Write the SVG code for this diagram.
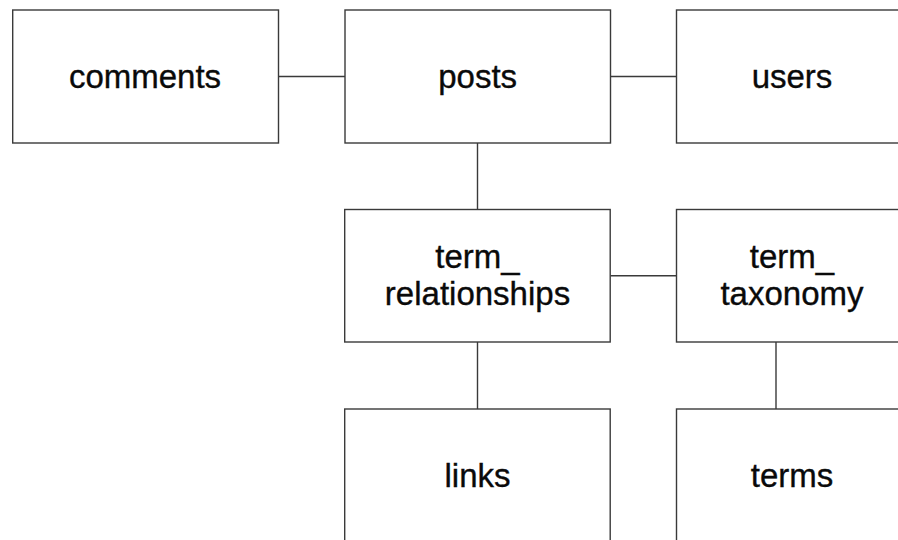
<svg xmlns="http://www.w3.org/2000/svg" width="898" height="540" viewBox="0 0 898 540">
  <style>
    .box { fill: #ffffff; stroke: #3a3a3a; stroke-width: 1.4; }
    .link { stroke: #3a3a3a; stroke-width: 1.4; fill: none; }
    .label { font-family: "Liberation Sans", Arial, sans-serif; font-size: 33px; fill: #0a0a0a; stroke: #0a0a0a; stroke-width: 0.35; text-anchor: middle; }
  </style>
  <rect width="898" height="540" fill="#ffffff"/>

  <!-- connectors between tables -->
  <g id="connectors">
    <line class="link" x1="278.5" y1="76.5" x2="345" y2="76.5"/>
    <line class="link" x1="610.5" y1="76.5" x2="676.5" y2="76.5"/>
    <line class="link" x1="477.5" y1="143" x2="477.5" y2="209.5"/>
    <line class="link" x1="610.5" y1="275.7" x2="676.5" y2="275.7"/>
    <line class="link" x1="477.5" y1="342" x2="477.5" y2="409"/>
    <line class="link" x1="776" y1="342" x2="776" y2="409"/>
  </g>

  <g id="comments">
    <rect class="box" x="12.7" y="10" width="265.8" height="133"/>
    <text class="label" x="145" y="88.3">comments</text>
  </g>

  <g id="posts">
    <rect class="box" x="345" y="10" width="265.5" height="133"/>
    <text class="label" x="477.7" y="88.3">posts</text>
  </g>

  <g id="users">
    <rect class="box" x="676.5" y="10" width="266" height="133"/>
    <text class="label" x="792" y="88.3">users</text>
  </g>

  <g id="term_relationships">
    <rect class="box" x="344.7" y="209.5" width="265.5" height="132.5"/>
    <text class="label" x="477.5" y="267.8">term_</text>
    <text class="label" x="477.5" y="305">relationships</text>
  </g>

  <g id="term_taxonomy">
    <rect class="box" x="676.5" y="209.5" width="266" height="132.5"/>
    <text class="label" x="792" y="267.8">term_</text>
    <text class="label" x="792" y="305">taxonomy</text>
  </g>

  <g id="links">
    <rect class="box" x="344.7" y="409" width="265.5" height="140"/>
    <text class="label" x="477.5" y="486.7">links</text>
  </g>

  <g id="terms">
    <rect class="box" x="676.5" y="409" width="266" height="140"/>
    <text class="label" x="792" y="486.7">terms</text>
  </g>
</svg>
